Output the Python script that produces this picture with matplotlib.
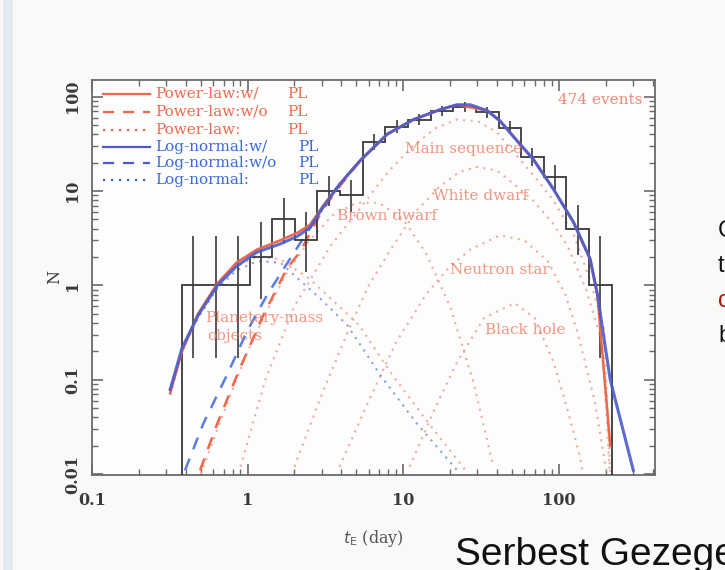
import numpy as np
import matplotlib
matplotlib.use("Agg")
import matplotlib.pyplot as plt
from matplotlib.patches import Rectangle
from matplotlib.ticker import FixedLocator, FixedFormatter, LogLocator, NullFormatter

# ---- observed Einstein-timescale histogram (474 events) ----
bin_edges = [0.38, 0.53, 0.74, 1.03, 1.44, 2.01, 2.81, 3.93, 5.5, 7.68, 10.7,
             15.0, 21.0, 29.3, 41.0, 57.3, 80.0, 112.0, 156.0, 219.0]
counts = [1, 1, 1, 2, 5, 3, 10, 9, 33, 48, 57, 70, 77, 68, 47, 23, 14, 4, 1]

# ---- best-fit models (t_E in days, expected events per bin) ----
pl_with_t = [0.318, 0.379, 0.48, 0.64, 0.85, 1.15, 1.62, 2.08, 2.52, 3.06, 3.94,
             5.29, 7.89, 11.6, 17.3, 22.2, 34.7, 42.0, 50.9, 68.5, 92.2, 124, 159, 177, 214]
pl_with_n = [0.072, 0.2, 0.5, 1.05, 1.75, 2.4, 3.0, 3.6, 4.4, 7.0, 12.0,
             21, 40, 57, 73, 82, 71, 55, 38, 21.7, 10.5, 4.7, 1.9, 0.8, 0.02]

ln_with_t = [0.318, 0.379, 0.48, 0.64, 0.85, 1.15, 1.62, 2.08, 2.52, 3.06, 3.94,
             5.29, 7.89, 11.6, 17.3, 22.2, 27.0, 34.7, 42.0, 50.9, 68.5, 92.2, 124,
             159, 177, 214, 301]
ln_with_n = [0.079, 0.217, 0.48, 1.0, 1.6, 2.25, 2.75, 3.3, 4.1, 6.8, 12.0,
             21, 40, 57, 73, 82, 82, 71, 55, 38, 21.7, 10.5, 4.7,
             1.9, 0.8, 0.1, 0.011]

pl_without_t = [0.495, 0.637, 0.895, 1.26, 1.79, 2.18, 2.93, 3.66, 5.29]
pl_without_n = [0.011, 0.034, 0.134, 0.48, 1.51, 2.28, 5.7, 9.8, 21]

ln_without_t = [0.396, 0.518, 0.738, 0.993, 1.33, 1.79, 2.27, 2.93, 3.55, 5.29]
ln_without_n = [0.011, 0.034, 0.113, 0.328, 0.785, 1.70, 3.12, 6.0, 9.8, 21]

# planetary-mass component of each model
pl_planet_t = [0.318, 0.379, 0.48, 0.64, 0.85, 1.15, 1.62, 2.49, 3.5, 5.2, 8.5, 14.7, 25.1]
pl_planet_n = [0.07, 0.2, 0.48, 1.0, 1.6, 2.0, 1.9, 1.18, 0.7, 0.38, 0.113, 0.034, 0.011]
ln_planet_t = [0.318, 0.379, 0.48, 0.64, 0.85, 1.15, 1.62, 2.08, 3.0, 4.37, 7.1, 12.3, 22.2]
ln_planet_n = [0.075, 0.2, 0.45, 0.93, 1.45, 1.8, 1.75, 1.2, 0.7, 0.38, 0.113, 0.034, 0.011]

# stellar and remnant components of the power-law model
bd_t = [0.5, 0.75, 1.0, 1.3, 1.8, 2.5, 3.5, 5.0, 7.0, 10, 14, 20, 28, 38]
bd_n = [0.01, 0.06, 0.2, 0.5, 1.4, 3.0, 5.5, 7.5, 7.5, 5.0, 2.2, 0.6, 0.1, 0.012]
ms_t = [0.9, 1.3, 2.0, 3.4, 5.8, 8.0, 11.6, 16, 22, 30, 40, 51, 68, 92, 124, 160, 195, 218]
ms_n = [0.012, 0.1, 0.6, 2.6, 8.0, 16, 30, 46, 57, 55, 42, 26, 15, 8, 3.5, 1.1, 0.35, 0.005]
wd_t = [2.0, 3.0, 4.5, 6.0, 8.3, 12, 17, 23, 30, 40, 51, 68, 92, 114, 150, 190, 218]
wd_n = [0.012, 0.07, 0.35, 1.0, 2.4, 6.0, 11, 16, 18, 16.5, 12, 8, 4.5, 2.6, 0.9, 0.25, 0.005]
ns_t = [3.9, 6.0, 9.0, 14, 20, 27, 42, 60, 85, 110, 131, 170, 218]
ns_n = [0.012, 0.06, 0.25, 0.8, 1.6, 2.4, 3.4, 3.0, 1.8, 0.8, 0.33, 0.06, 0.005]
bh_t = [11, 16, 22, 33, 52, 70, 93, 115, 137, 150]
bh_n = [0.012, 0.05, 0.15, 0.45, 0.65, 0.45, 0.15, 0.045, 0.015, 0.006]

component_labels = [("Main sequence", 10.3, 27.7), ("White dwarf", 15.6, 8.9),
                    ("Brown dwarf", 3.77, 5.45), ("Neutron star", 20.0, 1.44),
                    ("Black hole", 33.7, 0.336), ("Planetary-mass", 0.533, 0.45),
                    ("objects", 0.55, 0.29)]

legend_rows = [("Power-law:w/", "-", "red"), ("Power-law:w/o", "--", "red"),
               ("Power-law:", ":", "red"), ("Log-normal:w/", "-", "blue"),
               ("Log-normal:w/o", "--", "blue"), ("Log-normal:", ":", "blue")]

RED = "#f0664a"
BLUE = "#4a5ccc"
BLUE_TXT = "#3b6ae0"
RED_TXT = "#f06a50"
COMP = "#efaaa2"
INK = "#3a3a3a"
SERIF = "DejaVu Serif"
TXT = 11

fig = plt.figure(figsize=(7.25, 5.70), dpi=100, facecolor="#f7faf6")
fig.patches.append(Rectangle((3 / 725, 0), 10 / 725, 1, transform=fig.transFigure,
                             facecolor="#e2e8f0", edgecolor="none", zorder=0))
ax = fig.add_axes([92 / 725, 1 - 475 / 570, 563 / 725, 395 / 570])
ax.set_facecolor("#fcfdfc")
ax.set_xscale("log")
ax.set_yscale("log")
ax.set_xlim(0.1, 415)
ax.set_ylim(0.0098, 150)

dot = (0, (1.0, 2.6))
for t, n in [(bd_t, bd_n), (ms_t, ms_n), (wd_t, wd_n), (ns_t, ns_n), (bh_t, bh_n)]:
    ax.plot(t, n, color=COMP, lw=1.5, ls=dot, zorder=2)
ax.plot(pl_planet_t, pl_planet_n, color=COMP, lw=1.5, ls=dot, zorder=2)
ax.plot(ln_planet_t, ln_planet_n, color="#8aa0d8", lw=1.5, ls=dot, zorder=2)

ax.plot(pl_without_t, pl_without_n, color=RED, lw=1.8, ls=(0, (5, 4)), zorder=3)
ax.plot(ln_without_t, ln_without_n, color="#5a7ee0", lw=1.8, ls=(0, (5, 4)), zorder=3)

# histogram with Poisson (Gehrels 1-sigma) limits
cnt = np.array(counts, dtype=float)
edges = np.array(bin_edges)
centers = np.sqrt(edges[:-1] * edges[1:])
upper = cnt + np.sqrt(cnt + 0.75) + 1.0
lower = cnt * (1.0 - 1.0 / (9.0 * cnt) - 1.0 / (3.0 * np.sqrt(cnt))) ** 3
ax.stairs(cnt, edges, baseline=1e-4, color=INK, lw=1.3, zorder=4)
ax.vlines(centers, lower, upper, color=INK, lw=1.2, zorder=4)

ax.plot(pl_with_t, pl_with_n, color=RED, lw=1.8, zorder=5)
ax.plot(ln_with_t, ln_with_n, color=BLUE, lw=2.2, alpha=0.9, zorder=6)

for txt, x, y in component_labels:
    ax.text(x, y, txt, color=RED_TXT, fontsize=TXT, family=SERIF, va="center",
            ha="left", alpha=0.7, zorder=7)
ax.text(0.977, 0.949, "474 events", transform=ax.transAxes, color=RED_TXT,
        fontsize=TXT, family=SERIF, ha="right", va="center", alpha=0.8)

# legend block drawn in axes fractions
row_y = [0.965, 0.919, 0.873, 0.830, 0.790, 0.747]
for (lab, ls, grp), y in zip(legend_rows, row_y):
    lc = RED if grp == "red" else BLUE
    tc = RED_TXT if grp == "red" else BLUE_TXT
    lsty = {"-": "-", "--": (0, (5, 4)), ":": dot}[ls]
    ax.plot([0.0195, 0.103], [y, y], transform=ax.transAxes, color=lc, lw=1.6, ls=lsty)
    ax.text(0.112, y, lab, transform=ax.transAxes, color=tc, fontsize=TXT,
            family=SERIF, va="center", ha="left")
    ax.text(0.346 if grp == "red" else 0.366, y, "PL", transform=ax.transAxes,
            color=tc, fontsize=TXT, family=SERIF, va="center", ha="left")

# axes frame and ticks
for s in ax.spines.values():
    s.set_color("#6a6a6a")
    s.set_linewidth(1.3)
ax.xaxis.set_major_locator(FixedLocator([0.1, 1, 10, 100]))
ax.xaxis.set_major_formatter(FixedFormatter(["0.1", "1", "10", "100"]))
ax.yaxis.set_major_locator(FixedLocator([0.01, 0.1, 1, 10, 100]))
ax.yaxis.set_major_formatter(FixedFormatter(["0.01", "0.1", "1", "10", "100"]))
ax.xaxis.set_minor_locator(LogLocator(base=10, subs=np.arange(2, 10)))
ax.yaxis.set_minor_locator(LogLocator(base=10, subs=np.arange(2, 10)))
ax.xaxis.set_minor_formatter(NullFormatter())
ax.yaxis.set_minor_formatter(NullFormatter())
ax.tick_params(which="both", direction="in", top=True, right=True, color="#6a6a6a")
ax.tick_params(which="major", length=8, width=1.2)
ax.tick_params(which="minor", length=4, width=1.0)
ax.tick_params(axis="x", which="major", pad=12, labelsize=11.5, labelcolor="#3a3a3a")
ax.tick_params(axis="y", which="major", pad=8, labelsize=11.5, labelcolor="#3a3a3a")
for lbl in ax.get_xticklabels() + ax.get_yticklabels():
    lbl.set_family(SERIF)
    lbl.set_fontweight("bold")
for lbl in ax.get_yticklabels():
    lbl.set_rotation(90)
    lbl.set_va("center")
ax.set_xlabel(r"$t_{\rm E}$ (day)", family=SERIF, fontsize=11.5, color="#555555",
              labelpad=14)
ax.set_ylabel("N", family=SERIF, fontsize=11.5, color="#3a3a3a", labelpad=0.5)

# slide text around the figure
for ch, yb, col in [("C", 237, "#111111"), ("t", 272, "#111111"),
                    ("c", 307, "#b01010"), ("b", 342, "#111111")]:
    fig.text(718 / 725, 1 - yb / 570, ch, color=col, fontsize=17,
             family="Liberation Sans", va="baseline", ha="left")
fig.text(455 / 725, 1 - 565 / 570, "Serbest Gezegenler", color="#111111",
         fontsize=28, family="Liberation Sans", va="baseline", ha="left")

fig.savefig("out.png", dpi=100, facecolor=fig.get_facecolor())
